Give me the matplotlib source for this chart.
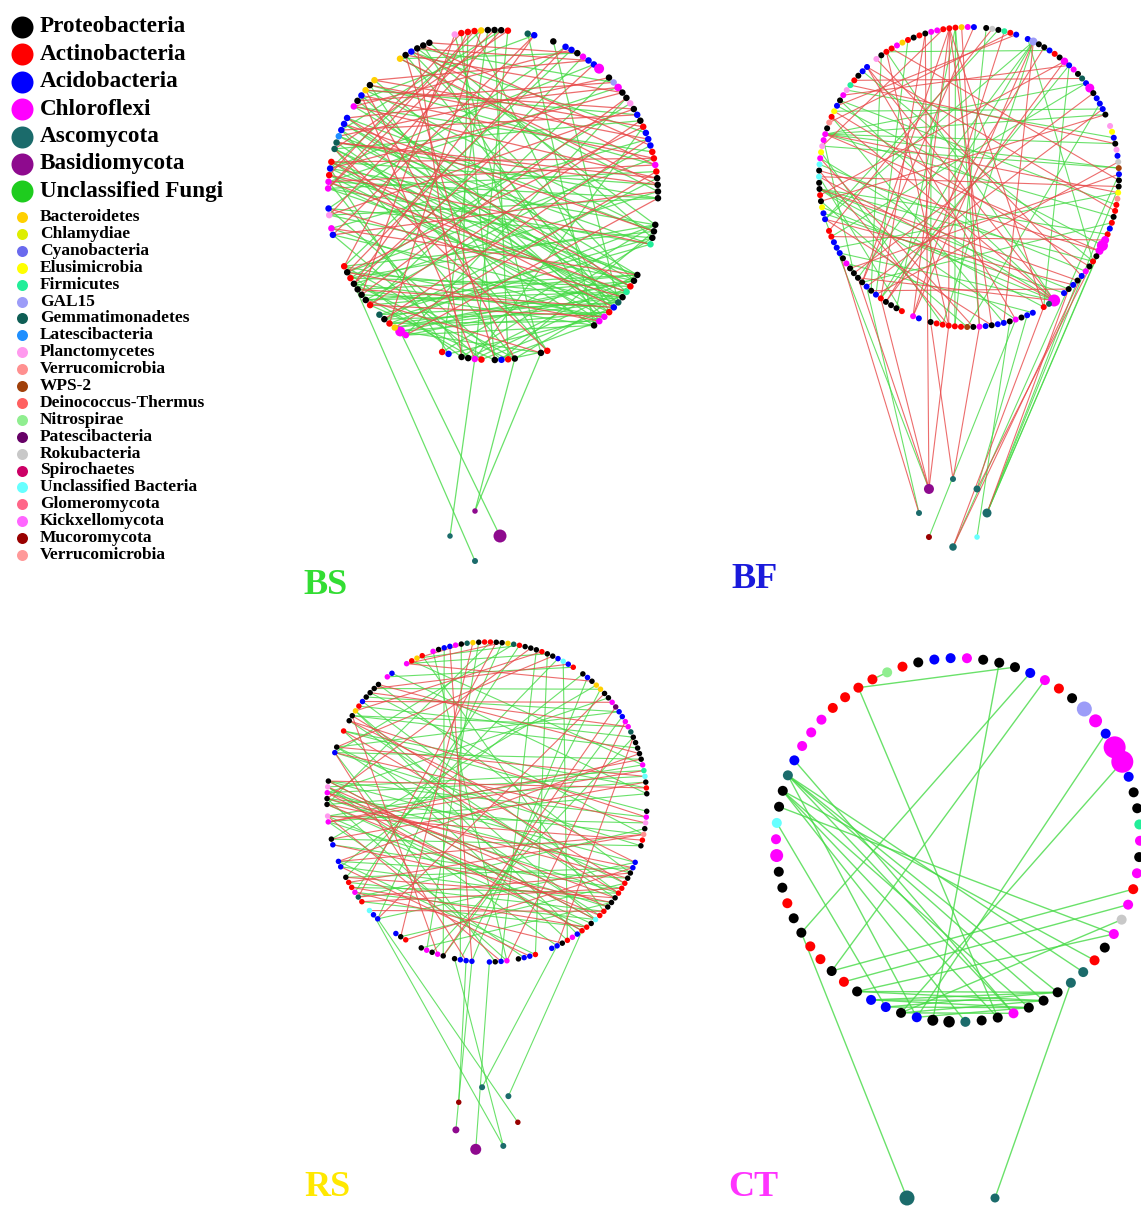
import matplotlib
matplotlib.use("Agg")
import matplotlib.pyplot as plt
from matplotlib.collections import LineCollection
import numpy as np

W, H = 1141, 1206

# phylum code -> colour
PHYLUM_COLORS = {
    "k": "#000000", "r": "#FF0000", "b": "#0000FF", "m": "#FF00FF",
    "t": "#1B6B6B", "u": "#8E0A8E", "g": "#1ECC1E",
    "y": "#FFD000", "c": "#DDEE00", "v": "#6A6AEE", "e": "#FFFF00",
    "f": "#22EE99", "l": "#9C9CF8", "d": "#0E5E55", "a": "#1E8FFF",
    "p": "#FF99EE", "o": "#FF9090", "w": "#A0400A", "h": "#FF6060",
    "n": "#90EE90", "q": "#660066", "s": "#C8C8C8", "z": "#CC0066",
    "x": "#66FFFF", "G": "#FF6688", "K": "#FF66FF", "M": "#990000",
    "V": "#FF9999",
}

MAJOR_NAMES = ["Proteobacteria", "Actinobacteria", "Acidobacteria", "Chloroflexi",
               "Ascomycota", "Basidiomycota", "Unclassified Fungi"]
MAJOR_CODES = ["k", "r", "b", "m", "t", "u", "g"]

MINOR_NAMES = ["Bacteroidetes", "Chlamydiae", "Cyanobacteria", "Elusimicrobia",
               "Firmicutes", "GAL15", "Gemmatimonadetes", "Latescibacteria",
               "Planctomycetes", "Verrucomicrobia", "WPS-2", "Deinococcus-Thermus",
               "Nitrospirae", "Patescibacteria", "Rokubacteria", "Spirochaetes",
               "Unclassified Bacteria", "Glomeromycota", "Kickxellomycota",
               "Mucoromycota", "Verrucomicrobia"]
MINOR_CODES = ["y", "c", "v", "e", "f", "l", "d", "a", "p", "o", "w", "h",
               "n", "q", "s", "z", "x", "G", "K", "M", "V"]

# ---------------- BS network ----------------
bs_nodes = ("prrrykkkr..db..k.bbkmbbm.klmkkpkbkrbbbrrmrkkkk...kkkf....kkrfkdbrmmk"
            ".......rk...krbk.rmkk.br.....mmyrkd.rkkkkrkr....bm.pb..mmrbr.ddabbb"
            ".mkbyky....ykbkkk...")
bs_big = {18: 10, 68: 10, 21: 7.5}
bs_ring = "tuut"
bs_ring_size = [5.5, 5.5, 13, 6]
bs_pos = ("73-45 74-47 75-50 76-44 77-52 78-46 79-48 80-41 81-49 82-53 83-45 84-42 "
          "85-47 86-51 87-44 88-40 89-54 90-46 91-39 92-43 93-50 94-48 95-41 73-60 "
          "75-62 77-58 79-64 80-57 81-61 84-59 86-63 88-65 90-57 96-44 97-49 98-52 "
          "99-41 100-55 101-47 102-38 103-50 104-45 105-40 106-53 107-42 0-56 1-60 "
          "2-64 3-51 5-66 6-58 8-62 9-54 11-49 12-84 13-80 15-76 17-88 19-73 21-86 "
          "24-78 27-90 30-82 31-74 33-79 35-85 36-71 37-89 38-77 39-83 40-70 42-72 "
          "45-68 47-67 49-69 51-71 53-70 54-67 56-68 57-47 59-41 61-50 63-44 65-52 "
          "66-40 64-42 62-46 60-53 58-55 69-45 71-43 68-51 72-49 70-48 85-43 86-39 "
          "87-52 88-48 89-44 90-49 91-53 92-46 93-55 94-45 95-51 76-54 78-40 80-52 "
          "74-44 4-88 7-93 10-97 14-102 20-105 26-99 29-104 32-96 34-100 23-67 28-62 "
          "F3-77 F2-68 F0-62 F1-56 F1-57")
bs_neg = ("96-36 98-33 100-30 102-37 104-34 106-31 101-28 99-25 97-20 103-22 105-16 "
          "107-14 0-75 2-80 4-70 6-85 8-90 10-77 13-96 16-101 19-92 22-88 25-83 28-79 "
          "34-86 36-91 38-81 41-94 43-87 46-95 48-84 50-89 52-73 55-90 57-99 60-103 "
          "62-98 64-105 67-39 69-35 71-30 73-27 75-23 77-17 79-12 81-10 83-7 85-3 "
          "87-1 89-33 91-37 93-26 95-21 44-82 47-86 50-76 53-79 56-74")

# ---------------- BF network ----------------
bf_nodes = ("rkrkmmrrrymb.kskfrb.blkkbrkmbmkdbmkbbbk.pebkpbswbkkeorrkrbrmmmkrkmbkbkb"
            ".mdr.bbkmkbbkbmkwrrrrrk.bm.rkkkrbkbkkkkmkbbbrr.bbekrkkxkxmepmmkorebkmpfrkbb"
            ".pkrrmy")
bf_big = {19: 8, 25: 7.5, 31: 9, 57: 11, 56: 8, 58: 8, 68: 12}
bf_ring = "utttxtMt"
bf_ring_size = [10, 6, 7, 9, 5.5, 7.5, 6, 6]
bf_pos = ("124-40 124-44 124-36 124-52 124-30 115-60 115-66 115-55 115-70 115-74 "
          "19-100 19-95 19-110 19-86 68-120 68-112 68-130 68-105 68-140 8-80 8-84 "
          "8-92 0-96 4-88 12-84 14-110 22-140 26-95 30-108 35-128 39-132 44-122 "
          "48-106 53-99 57-129 62-119 67-111 71-103 76-127 82-113 86-121 91-117 "
          "97-139 101-123 18-60 26-70 34-82 130-50 136-60 "
          "F0-110 F2-72 F3-58 F3-52 F3-64 F4-75 F6-74 F7-98 F5-45 F3-47")
bf_neg = ("7-90 7-85 7-78 7-99 7-70 9-80 3-95 11-99 13-109 17-129 21-94 25-114 "
          "29-134 32-101 36-113 40-133 43-96 47-117 51-137 56-108 58-118 61-128 "
          "63-138 66-97 68-100 68-117 68-127 68-137 74-137 78-110 81-120 85-140 "
          "90-15 94-25 98-35 102-45 110-65 118-85 122-6 126-16 131-26 141-46 "
          "124-58 124-48 115-64 19-90 19-76 "
          "F0-3 F0-100 F0-95 F0-85 F1-80 F1-88 F2-60 F3-66 F5-63 F5-70 F7-105")

# ---------------- RS network ----------------
rs_nodes = ("mkbbmkdykrrkkydrkkkrkkbxbr.kbkyykkmqbbmmdkkkkkmfxkrk..kmpkork.."
            "bbkkrrrkkkrrxkrrbmrkbb..rbbk.mbkb..bbbk.kmkmk..rkb...bbx.rdmrrk.bb..bk"
            "..mp.kkmpk....bk..r.kkyrbkkkk.mb..mryr.")
rs_big = {}
rs_ring = "ttMtuuM"
rs_ring_size = [6, 6, 5.5, 6, 11, 7, 5.5]
rs_pos = ("113-50 114-53 115-48 116-55 117-60 118-46 119-58 120-44 121-62 122-51 "
          "123-65 124-42 112-57 111-63 110-61 109-66 108-59 107-68 106-64 105-70 "
          "104-54 103-72 113-67 115-71 117-47 119-52 121-69 114-45 116-64 118-73 "
          "120-57 122-49 100-58 98-62 96-66 94-40 92-36 90-30 88-27 86-120 84-116 "
          "82-113 80-110 78-118 76-122 74-125 72-114 70-119 5-90 8-95 12-100 15-105 "
          "18-85 20-80 23-76 26-109 29-112 32-117 35-121 38-124 0-84 2-92 131-60 "
          "129-55 127-64 125-70 133-50 135-45 137-68 126-40 128-35 130-30 132-25 "
          "134-20 136-15 10-115 14-120 22-108 "
          "F4-87 F5-88 F6-89 F3-91 F3-101 F2-100 F0-78 F1-73")
rs_neg = ("112-48 114-56 116-61 118-67 120-53 122-64 113-44 115-59 117-65 119-70 "
          "121-47 123-58 124-62 110-55 108-65 106-72 104-60 102-68 3-88 7-98 11-104 "
          "17-116 21-121 24-130 28-134 31-100 34-92 37-84 40-78 43-110 46-113 49-119 "
          "52-123 55-107 59-97 63-103 66-111 69-115 73-117 77-105 81-109 85-114 "
          "89-120 93-124 127-33 129-38 131-43 134-12 136-6 125-19")

# ---------------- CT network ----------------
ct_nodes = "nrkbbmkkkbmrklmbmmbkkfmkmrmsmkrttkkkmkktkkbkbbkrkrrkkrkkmmxkktbmmmrrrr"
ct_big = {13: 15, 14: 13, 16: 22, 17: 22, 56: 13, 40: 11.5, 41: 11}
ct_ring = "tt"
ct_ring_size = [15, 9]
ct_pos = ("69-0 68-8 68-37 7-41 9-51 10-48 15-42 17-43 61-31 61-33 61-36 61-34 "
          "60-30 60-35 60-37 59-28 58-44 25-48 26-47 27-43 28-46 46-33 46-34 45-34 "
          "45-35 44-35 43-34 43-36 44-33 45-33 42-35 61-42 60-39 62-36 "
          "F0-51 F1-32")
ct_neg = ""

# panel geometry: circle centre, radius, angle of first slot, node size,
# fungal ring centre, radius, start angle, label
PANELS = [
    dict(nodes=bs_nodes, big=bs_big, ring=bs_ring, ring_size=bs_ring_size,
         pos=bs_pos, neg=bs_neg, c=(493, 195), r=165, start=103.4, d=6.5,
         rc=(475, 536), rr=25, rstart=180, lw=0.9,
         label="BS", lxy=(325, 586), lcolor="#33DD33"),
    dict(nodes=bf_nodes, big=bf_big, ring=bf_ring, ring_size=bf_ring_size,
         pos=bf_pos, neg=bf_neg, c=(969, 177), r=150, start=114, d=6.0,
         rc=(953, 513), rr=34, rstart=135, lw=0.8,
         label="BF", lxy=(755, 579), lcolor="#1A1ADB"),
    dict(nodes=rs_nodes, big=rs_big, ring=rs_ring, ring_size=rs_ring_size,
         pos=rs_pos, neg=rs_neg, c=(487, 802), r=160, start=109.7, d=5.5,
         rc=(486, 1119), rr=32, rstart=97, lw=0.8,
         label="RS", lxy=(327, 1188), lcolor="#FFE800"),
    dict(nodes=ct_nodes, big=ct_big, ring=ct_ring, ring_size=ct_ring_size,
         pos=ct_pos, neg=ct_neg, c=(958, 840), r=182, start=112.9, d=10,
         rc=(951, 1198), rr=44, rstart=180, lw=1.0,
         label="CT", lxy=(753, 1188), lcolor="#FF33FF"),
]

POS_COLOR = "#45DA45"
NEG_COLOR = "#E84848"
SERIF = ["Liberation Serif", "DejaVu Serif"]


def px2pt2(d):
    # marker diameter in pixels -> scatter area in points^2 (dpi 100)
    return (d * 0.72) ** 2


def circle_layout(seq, cx, cy, r, start):
    n = len(seq)
    pts, codes = [], []
    for i, ch in enumerate(seq):
        if ch == ".":
            continue
        a = np.deg2rad(start - 360.0 * i / n)
        pts.append((cx + r * np.cos(a), cy - r * np.sin(a)))
        codes.append(ch)
    return np.array(pts), codes


def parse_edges(text, main, ring):
    segs = []
    for tok in text.split():
        a, b = tok.split("-")
        pa = ring[int(a[1:])] if a.startswith("F") else main[int(a)]
        pb = ring[int(b[1:])] if b.startswith("F") else main[int(b)]
        segs.append([pa, pb])
    return segs


fig = plt.figure(figsize=(W / 100, H / 100), dpi=100)
ax = fig.add_axes([0, 0, 1, 1])
ax.set_xlim(0, W)
ax.set_ylim(H, 0)
ax.axis("off")

for p in PANELS:
    main, codes = circle_layout(p["nodes"], p["c"][0], p["c"][1], p["r"], p["start"])
    ring, rcodes = circle_layout(p["ring"], p["rc"][0], p["rc"][1], p["rr"], p["rstart"])

    pos = parse_edges(p["pos"], main, ring)
    neg = parse_edges(p["neg"], main, ring)
    if pos:
        ax.add_collection(LineCollection(pos, colors=POS_COLOR, linewidths=p["lw"],
                                         alpha=0.8, zorder=1))
    if neg:
        ax.add_collection(LineCollection(neg, colors=NEG_COLOR, linewidths=p["lw"],
                                         alpha=0.8, zorder=1.1))

    sizes = [px2pt2(p["big"].get(i, p["d"])) for i in range(len(codes))]
    ax.scatter(main[:, 0], main[:, 1], s=sizes, c=[PHYLUM_COLORS[c] for c in codes],
               linewidths=0, zorder=3)
    ax.scatter(ring[:, 0], ring[:, 1], s=[px2pt2(d) for d in p["ring_size"]],
               c=[PHYLUM_COLORS[c] for c in rcodes], linewidths=0, zorder=3)

    ax.text(p["lxy"][0], p["lxy"][1], p["label"], color=p["lcolor"], fontsize=26,
            fontweight="bold", family=SERIF, ha="center", va="center")

# legend
for i, (name, code) in enumerate(zip(MAJOR_NAMES, MAJOR_CODES)):
    y = 27 + 27.4 * i
    ax.scatter([22], [y], s=px2pt2(22), c=PHYLUM_COLORS[code], linewidths=0, zorder=3)
    ax.text(40, y, name, fontsize=16.7, fontweight="bold", family=SERIF,
            ha="left", va="center")

for i, (name, code) in enumerate(zip(MINOR_NAMES, MINOR_CODES)):
    y = 217 + 16.9 * i
    ax.scatter([22], [y], s=px2pt2(11), c=PHYLUM_COLORS[code], linewidths=0, zorder=3)
    ax.text(40, y, name, fontsize=12.5, fontweight="bold", family=SERIF,
            ha="left", va="center")

fig.savefig("out.png", dpi=100, facecolor="white")
